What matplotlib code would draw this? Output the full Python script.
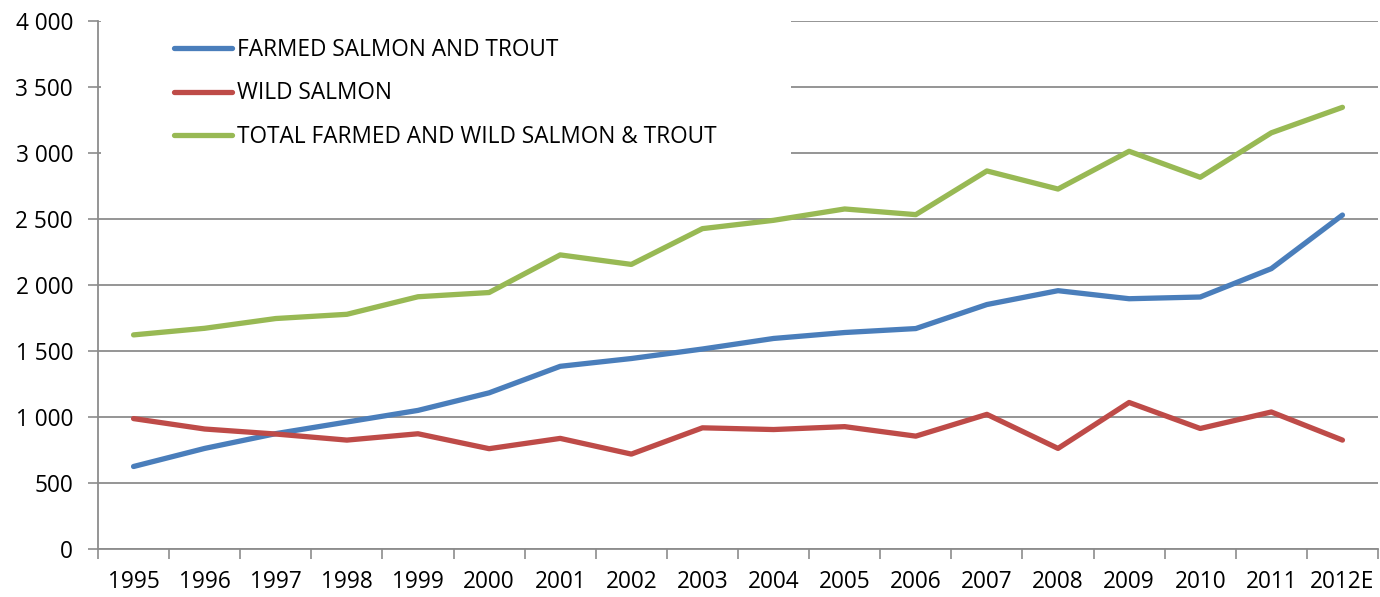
import matplotlib
matplotlib.use("Agg")
import matplotlib.pyplot as plt
from matplotlib.patches import Rectangle
from matplotlib.ticker import FuncFormatter, FixedLocator

years = ["1995", "1996", "1997", "1998", "1999", "2000", "2001", "2002", "2003",
         "2004", "2005", "2006", "2007", "2008", "2009", "2010", "2011", "2012E"]
farmed = [625, 762, 874, 962, 1050, 1183, 1384, 1443, 1515, 1595, 1640, 1670,
          1852, 1957, 1896, 1909, 2124, 2530]
wild = [988, 909, 871, 825, 873, 760, 838, 719, 918, 905, 927, 855,
        1020, 762, 1110, 913, 1038, 825]
total = [1622, 1672, 1746, 1778, 1911, 1943, 2228, 2156, 2427, 2490, 2576, 2533,
         2864, 2727, 3013, 2816, 3153, 3346]

labels = ["FARMED SALMON AND TROUT", "WILD SALMON",
          "TOTAL FARMED AND WILD SALMON & TROUT"]
colors = ["#4A7EBB", "#BE4B48", "#98B954"]

plt.rcParams['font.family'] = ['Open Sans', 'DejaVu Sans']
FS = 16.3

fig = plt.figure(figsize=(13.8, 5.97), dpi=100)
ax = fig.add_axes([98/1380, 1 - 549/597, 1280/1380, 528/597])

x = list(range(len(years)))
for vals, lab, col in zip([farmed, wild, total], labels, colors):
    ax.plot(x, vals, color=col, lw=3.8, label=lab, solid_capstyle='round',
            solid_joinstyle='round', zorder=3)

ax.set_xlim(-0.5, len(years) - 0.5)
ax.set_ylim(0, 4000)
ax.set_yticks(range(0, 4001, 500))
ax.yaxis.set_major_formatter(FuncFormatter(lambda v, p: f"{int(v):,}".replace(",", " ")))
ax.grid(axis='y', color='#8C8C8C', lw=1.3)
ax.set_axisbelow(True)

# category boundaries as major ticks, labels at centers as minor ticks
ax.xaxis.set_major_locator(FixedLocator([i - 0.5 for i in range(len(years) + 1)]))
ax.xaxis.set_major_formatter(FuncFormatter(lambda v, p: ""))
ax.xaxis.set_minor_locator(FixedLocator(x))
ax.set_xticklabels(years, minor=True)
ax.tick_params(axis='x', which='major', length=7, width=1.2, color='#8C8C8C', direction='out')
ax.tick_params(axis='x', which='minor', length=0, pad=15, labelsize=FS)
ax.tick_params(axis='y', length=7, width=1.2, color='#8C8C8C', direction='out', pad=11,
               labelsize=FS)

for s in ['top', 'right']:
    ax.spines[s].set_visible(False)
for s in ['left', 'bottom']:
    ax.spines[s].set_color('#8C8C8C')
    ax.spines[s].set_linewidth(1.3)

# white legend area covering gridlines
ax.add_patch(Rectangle((0.002, (549 - 165) / 528), (790 - 100) / 1280, 1,
                       transform=ax.transAxes, facecolor='white', edgecolor='none',
                       zorder=1.5, clip_on=False))

leg = ax.legend(loc='upper left', bbox_to_anchor=((174 - 98) / 1280, (549 - 38) / 528),
                frameon=False, fontsize=FS, handlelength=2.55, handletextpad=0.25,
                labelspacing=0.86, borderpad=0, borderaxespad=0)
for line in leg.get_lines():
    line.set_linewidth(3.8)

fig.savefig("out.png", dpi=100)
